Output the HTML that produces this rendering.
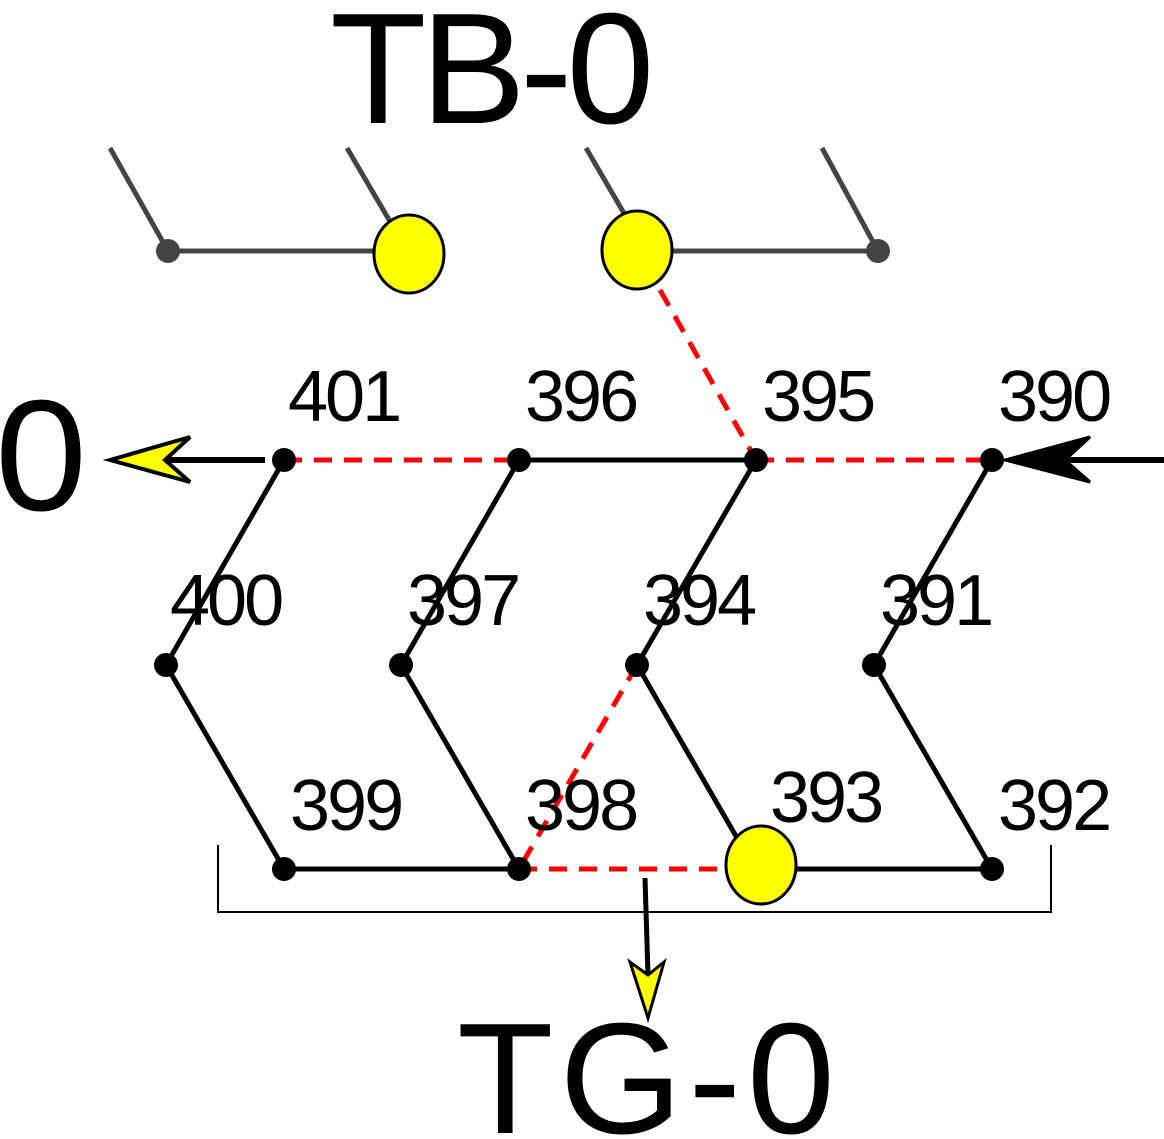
<!DOCTYPE html>
<html><head><style>html,body{margin:0;padding:0;background:#fff}svg{display:block}</style></head>
<body>
<svg width="1164" height="1139" viewBox="0 0 1164 1139" xmlns="http://www.w3.org/2000/svg" font-family="Liberation Sans, sans-serif">
<g stroke="#444" stroke-width="5" fill="none">
<line x1="110" y1="148" x2="168" y2="251"/>
<line x1="347" y1="148" x2="395" y2="230"/>
<line x1="586" y1="148" x2="625" y2="215"/>
<line x1="822" y1="148" x2="878" y2="251"/>
<line x1="168" y1="251" x2="380" y2="251"/>
<line x1="665" y1="251" x2="878" y2="251"/>
</g>
<circle cx="168" cy="251" r="12" fill="#444"/>
<circle cx="878" cy="251" r="12" fill="#444"/>
<line x1="660" y1="290" x2="756" y2="460" stroke="#f00" stroke-width="5" stroke-dasharray="18,12"/>
<ellipse cx="409" cy="254" rx="35" ry="39" fill="#ff0" stroke="#000" stroke-width="3"/>
<ellipse cx="637" cy="250" rx="35" ry="39" fill="#ff0" stroke="#000" stroke-width="3"/>
<g stroke="#f00" stroke-width="5" stroke-dasharray="18,12">
<line x1="284" y1="460" x2="519" y2="460"/>
<line x1="756" y1="460" x2="992" y2="460"/>
<line x1="637" y1="665" x2="519" y2="869"/>
<line x1="519" y1="869" x2="740" y2="869"/>
</g>
<g stroke="#000" stroke-width="5">
<line x1="519" y1="460" x2="756" y2="460"/>
<line x1="284" y1="460" x2="166" y2="665"/>
<line x1="166" y1="665" x2="284" y2="869"/>
<line x1="519" y1="460" x2="401" y2="665"/>
<line x1="401" y1="665" x2="519" y2="869"/>
<line x1="756" y1="460" x2="637" y2="665"/>
<line x1="637" y1="665" x2="755" y2="869"/>
<line x1="992" y1="460" x2="874" y2="665"/>
<line x1="874" y1="665" x2="992" y2="869"/>
<line x1="284" y1="869" x2="519" y2="869"/>
<line x1="760" y1="869" x2="992" y2="869"/>
<line x1="265" y1="460" x2="160" y2="460" stroke-width="6"/>
<line x1="1164" y1="460" x2="1060" y2="460" stroke-width="6"/>
<line x1="645" y1="878" x2="648" y2="975"/>
</g>
<polygon points="110,460 190,437 165,460 190,482" fill="#ff0" stroke="#000" stroke-width="4"/>
<polygon points="1005,460 1090,437 1065,460 1090,482" fill="#000" stroke="#000" stroke-width="3"/>
<polygon points="648,1018 630,962 648,975 664,962" fill="#ff0" stroke="#000" stroke-width="3"/>
<g fill="#000">
<circle cx="284" cy="460" r="12"/><circle cx="519" cy="460" r="12"/><circle cx="756" cy="460" r="12"/><circle cx="992" cy="460" r="12"/>
<circle cx="166" cy="665" r="12"/><circle cx="401" cy="665" r="12"/><circle cx="637" cy="665" r="12"/><circle cx="874" cy="665" r="12"/>
<circle cx="284" cy="869" r="12"/><circle cx="519" cy="869" r="12"/><circle cx="992" cy="869" r="12"/>
</g>
<ellipse cx="761" cy="865" rx="35" ry="39" fill="#ff0" stroke="#000" stroke-width="3"/>
<polyline points="218,845 218,912 1051,912 1051,845" fill="none" stroke="#000" stroke-width="2"/>
<g font-size="72" fill="#000" letter-spacing="-3">
<text x="288" y="421">401</text><text x="525" y="421">396</text><text x="762" y="421">395</text><text x="998" y="421">390</text>
<text x="170" y="625">400</text><text x="407" y="625">397</text><text x="643" y="625">394</text><text x="880" y="625">391</text>
<text x="290" y="830">399</text><text x="525" y="830">398</text><text x="770" y="822">393</text><text x="998" y="830">392</text>
</g>
<text x="330" y="123" font-size="158" letter-spacing="-6">TB-0</text>
<text x="457" y="1133" font-size="158" letter-spacing="6">TG-0</text>
<text x="-5" y="510" font-size="158" textLength="92" lengthAdjust="spacingAndGlyphs">0</text>
</svg>
</body></html>
